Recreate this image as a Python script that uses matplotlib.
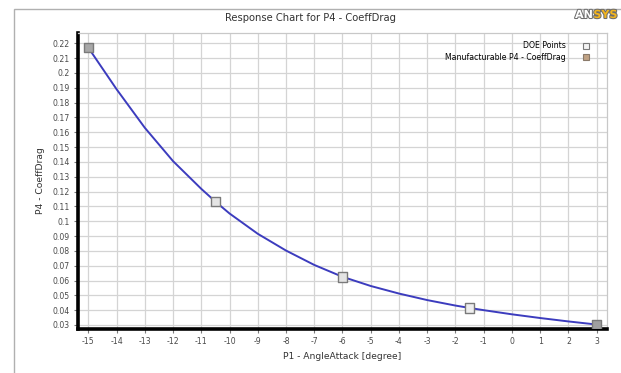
import matplotlib
matplotlib.use("Agg")
import matplotlib.pyplot as plt
import matplotlib.patheffects as pe
from matplotlib.lines import Line2D
from matplotlib.patches import Rectangle
from matplotlib.ticker import MultipleLocator, FuncFormatter

# response curve of CoeffDrag against angle of attack
curve_angle = [-15, -14, -13, -12, -11, -10.5, -10, -9, -8, -7, -6,
               -5, -4, -3, -2, -1.5, -1, 0, 1, 2, 3]
curve_drag = [0.217, 0.189, 0.163, 0.1405, 0.1218, 0.1132, 0.1052, 0.0915,
              0.0802, 0.0705, 0.0625, 0.0563, 0.0512, 0.0468, 0.0431,
              0.0415, 0.0400, 0.0372, 0.0347, 0.0324, 0.0303]

# design of experiments points
doe_angle = [-15, -10.5, -6, -1.5, 3]
doe_drag = [0.217, 0.1132, 0.0625, 0.0415, 0.0303]
doe_fill = ["#a8a8a8", "#e4e4e4", "#e4e4e4", "#eeeeee", "#a0a0a0"]

title = "Response Chart for P4 - CoeffDrag"
xlabel = "P1 - AngleAttack [degree]"
ylabel = "P4 - CoeffDrag"
legend_labels = ["DOE Points", "Manufacturable P4 - CoeffDrag"]

fig = plt.figure(figsize=(6.21, 3.73), dpi=100)
fig.patch.set_facecolor("white")

# outer panel frame
fig.patches.append(Rectangle((14 / 621, -0.2), 1.2, 1 - 9 / 373 + 0.2,
                             transform=fig.transFigure, fill=False,
                             edgecolor="#b0b0b0", linewidth=1.0))

ax = fig.add_axes([78 / 621, 44 / 373, 529 / 621, 296 / 373])

ax.plot(curve_angle, curve_drag, color="#3c3cbe", linewidth=1.4, zorder=3)
ax.scatter(doe_angle, doe_drag, marker="s", s=46, c=doe_fill,
           edgecolors="#7a7a7a", linewidths=1.0, zorder=4)

ax.set_xlim(-15.365, 3.365)
ax.set_ylim(0.0273, 0.2269)
ax.xaxis.set_major_locator(MultipleLocator(1))
ax.yaxis.set_major_locator(MultipleLocator(0.01))
ax.yaxis.set_major_formatter(FuncFormatter(lambda v, p: f"{round(v, 2):g}"))
ax.xaxis.set_major_formatter(FuncFormatter(lambda v, p: f"{int(round(v))}"))

ax.grid(True, color="#d4d4d4", linewidth=0.9)
ax.set_axisbelow(True)
for side in ["top", "right"]:
    ax.spines[side].set_color("#c8c8c8")
    ax.spines[side].set_linewidth(0.9)
for side in ["left", "bottom"]:
    ax.spines[side].set_color("black")
    ax.spines[side].set_linewidth(2.6)

ax.tick_params(axis="both", labelsize=5.6, labelcolor="#4a4a4a",
               color="#7a7a7a", length=3, width=0.8, pad=3)

ax.set_xlabel(xlabel, fontsize=6.6, color="#333333", labelpad=4)
ax.set_ylabel(ylabel, fontsize=6.6, color="#333333", labelpad=5)
fig.text(0.5, 1 - 18 / 373, title, ha="center", va="center",
         fontsize=7.2, color="#333333")

handles = [
    Line2D([], [], linestyle="none", marker="s", markersize=4.5,
           markerfacecolor="#f4f4f4", markeredgecolor="#7a7a7a",
           markeredgewidth=0.8),
    Line2D([], [], linestyle="none", marker="s", markersize=4.5,
           markerfacecolor="#c0a284", markeredgecolor="#8a7a6a",
           markeredgewidth=0.8),
]
ax.legend(handles, legend_labels, loc="upper right", markerfirst=False,
          frameon=False, fontsize=5.6, handletextpad=1.6, labelspacing=0.35,
          borderaxespad=0.3, bbox_to_anchor=(0.985, 0.99))

# logo in the top right corner: "AN" outlined white, "SYS" yellow
logo_style = dict(va="center", fontsize=8, fontweight="bold",
                  family="DejaVu Sans")
an = fig.text(575 / 621, 1 - 15 / 373, "AN", ha="left", color="white",
              path_effects=[pe.withStroke(linewidth=1.5, foreground="#6e6e6e")],
              **logo_style)
fig.canvas.draw()
an_box = an.get_window_extent()
fig.text(an_box.x1 / 621 + 0.5 / 621, 1 - 15 / 373, "SYS", ha="left",
         color="#f2b41e",
         path_effects=[pe.withStroke(linewidth=1.5, foreground="#6e6e6e")],
         **logo_style)

fig.savefig("out.png", dpi=100)
plt.close(fig)
